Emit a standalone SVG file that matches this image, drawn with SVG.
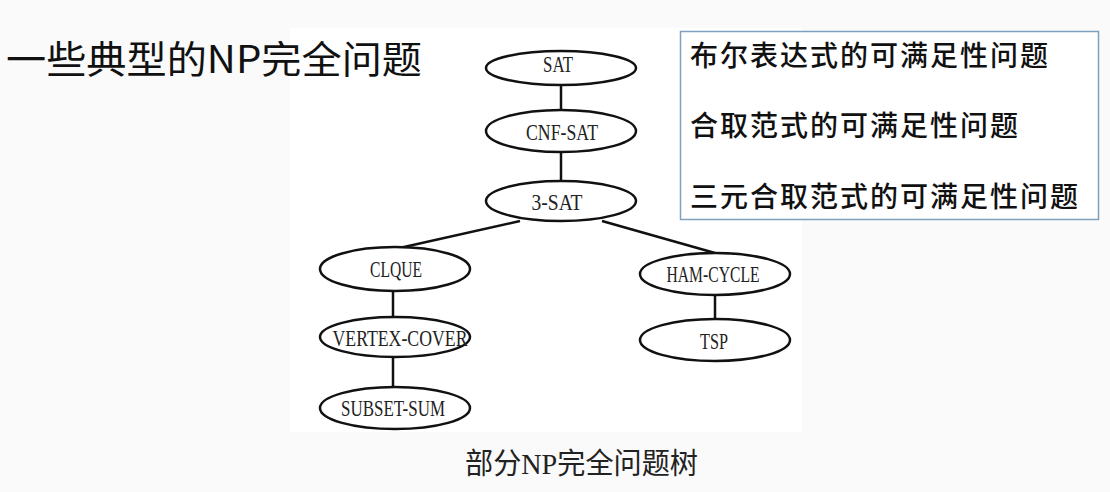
<svg xmlns="http://www.w3.org/2000/svg" width="1110" height="492" viewBox="0 0 1110 492">
<style>
.node ellipse{fill:#ffffff;stroke:#111111;stroke-width:2.5}
.node text{font-family:"Liberation Serif","DejaVu Serif",serif;font-size:23px;fill:#222222;text-anchor:middle}
.edge{stroke:#111111;stroke-width:2.5;fill:none}
.cjk{font-family:"Noto Sans CJK SC",sans-serif;fill:#111111}
</style>
<rect x="0" y="0" width="1110" height="492" fill="#fafafa"/>
<rect x="290" y="28" width="512" height="404" fill="#ffffff"/>
<text id="title" class="cjk" x="6" y="73" font-size="38" textLength="416" lengthAdjust="spacingAndGlyphs">一些典型的NP完全问题</text>
<g id="edges">
<line class="edge" x1="561" y1="85" x2="561" y2="111"/>
<line class="edge" x1="561" y1="152" x2="561" y2="182"/>
<line class="edge" x1="520" y1="221" x2="395" y2="249"/>
<line class="edge" x1="602" y1="221" x2="715" y2="253"/>
<line class="edge" x1="393" y1="291" x2="393" y2="318"/>
<line class="edge" x1="393" y1="357" x2="393" y2="388"/>
<line class="edge" x1="715" y1="295" x2="715" y2="319"/>
</g>
<g id="n-sat" class="node"><ellipse cx="561" cy="68" rx="75" ry="17"/><text x="558" y="72" textLength="30" lengthAdjust="spacingAndGlyphs">SAT</text></g>
<g id="n-cnf" class="node"><ellipse cx="561" cy="131" rx="75" ry="21"/><text x="562" y="140" textLength="72" lengthAdjust="spacingAndGlyphs">CNF-SAT</text></g>
<g id="n-3sat" class="node"><ellipse cx="561" cy="201" rx="75" ry="20"/><text x="557" y="210" textLength="51" lengthAdjust="spacingAndGlyphs">3-SAT</text></g>
<g id="n-clique" class="node"><ellipse cx="395" cy="269" rx="75" ry="22"/><text x="396" y="277" textLength="52" lengthAdjust="spacingAndGlyphs">CLQUE</text></g>
<g id="n-vc" class="node"><ellipse cx="395" cy="337" rx="75" ry="20"/><text x="400" y="346" textLength="135" lengthAdjust="spacingAndGlyphs">VERTEX-COVER</text></g>
<g id="n-ss" class="node"><ellipse cx="395" cy="408" rx="75" ry="21"/><text x="393" y="416" textLength="104" lengthAdjust="spacingAndGlyphs">SUBSET-SUM</text></g>
<g id="n-ham" class="node"><ellipse cx="715" cy="274" rx="75" ry="21"/><text x="713" y="282" textLength="93" lengthAdjust="spacingAndGlyphs">HAM-CYCLE</text></g>
<g id="n-tsp" class="node"><ellipse cx="715" cy="340" rx="75" ry="21"/><text x="714" y="349" textLength="28" lengthAdjust="spacingAndGlyphs">TSP</text></g>
<text id="caption" x="465" y="474" font-family="Liberation Serif, Noto Sans CJK SC, serif" font-size="29" fill="#222222" textLength="233" lengthAdjust="spacingAndGlyphs">部分NP完全问题树</text>
<g id="legend">
<rect x="680.5" y="31.5" width="418" height="188" fill="#ffffff" stroke="#7f9fbf" stroke-width="1.5"/>
<text class="cjk" x="690" y="66" font-size="28" font-weight="500" textLength="358" lengthAdjust="spacing">布尔表达式的可满足性问题</text>
<text class="cjk" x="690" y="136" font-size="28" font-weight="500" textLength="328" lengthAdjust="spacing">合取范式的可满足性问题</text>
<text class="cjk" x="690" y="207" font-size="28" font-weight="500" textLength="388" lengthAdjust="spacing">三元合取范式的可满足性问题</text>
</g>
</svg>
